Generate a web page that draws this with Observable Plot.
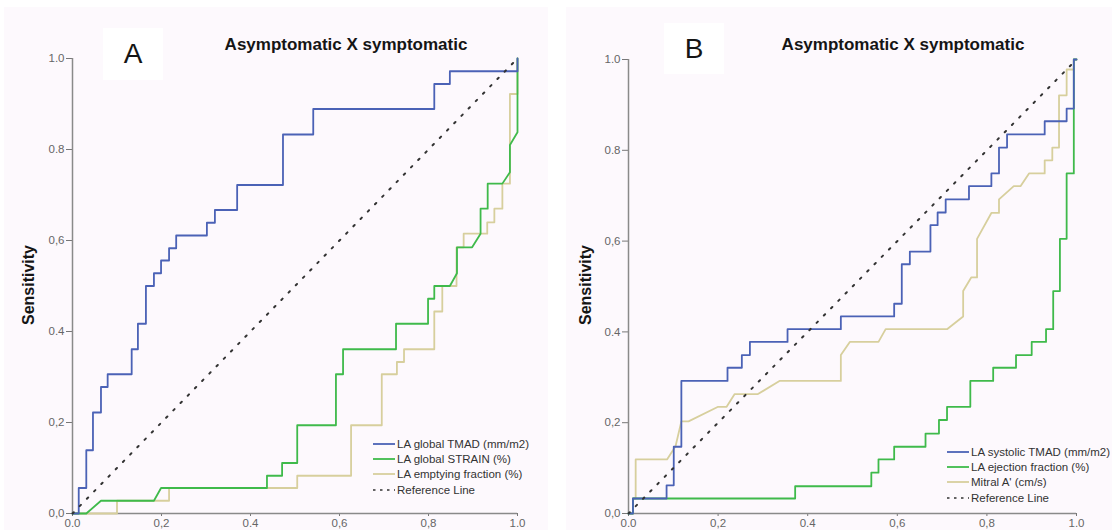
<!DOCTYPE html>
<html><head><meta charset="utf-8">
<script src="https://cdn.jsdelivr.net/npm/d3@7"></script>
<script src="https://cdn.jsdelivr.net/npm/@observablehq/plot@0.6"></script>
<style>
body{margin:0;background:#fff;font-family:"Liberation Sans",Arial,sans-serif;}
#wrap{position:relative;width:1116px;height:530px;overflow:hidden;background:#fff;}
.panel{position:absolute;background:#fdf9fd;}
.plot{position:absolute;top:0;}
.title{position:absolute;font-weight:bold;font-size:17px;color:#151515;white-space:nowrap;transform:translate(-50%,-50%);}
.letter{position:absolute;background:#fff;font-size:28px;color:#151515;display:flex;align-items:center;justify-content:center;}
.ylab{position:absolute;font-weight:bold;font-size:16px;color:#151515;transform:translate(-50%,-50%) rotate(-90deg);white-space:nowrap;}
.legend{position:absolute;font-size:11.5px;color:#333;}
.row{display:flex;align-items:center;height:15.4px;white-space:nowrap;}
.row svg{margin-right:2px;}
</style></head>
<body><div id="wrap"></div>
<script>
// Axis ticks and labels (as printed in the figure)
const ticks = [0, 0.2, 0.4, 0.6, 0.8, 1];
const xTickLabels = ["0.0", "0,2", "0.4", "0,6", "0,8", "1.0"];
const yTickLabels = ["0,0", "0,2", "0.4", "0,6", "0.8", "1.0"];

const titleText = "Asymptomatic X symptomatic";
const yLabel = "Sensitivity";

// Panel A – series (1 - specificity, sensitivity)
const aTmadX = [0,0.014,0.014,0.031,0.031,0.046,0.046,0.064,0.064,0.079,0.079,0.133,0.133,0.147,0.147,0.165,0.165,0.183,0.183,0.199,0.199,0.217,0.217,0.233,0.233,0.302,0.302,0.320,0.320,0.370,0.370,0.473,0.473,0.541,0.541,0.813,0.813,0.848,0.848,1,1];
const aTmadY = [0,0,0.056,0.056,0.139,0.139,0.222,0.222,0.278,0.278,0.306,0.306,0.361,0.361,0.417,0.417,0.5,0.5,0.528,0.528,0.556,0.556,0.583,0.583,0.611,0.611,0.639,0.639,0.667,0.667,0.722,0.722,0.833,0.833,0.889,0.889,0.944,0.944,0.972,0.972,1];
const aStrainX = [0,0.031,0.064,0.183,0.199,0.437,0.437,0.471,0.471,0.505,0.505,0.592,0.592,0.608,0.608,0.727,0.727,0.799,0.799,0.813,0.813,0.848,0.864,0.864,0.898,0.917,0.917,0.933,0.933,0.966,0.983,0.983,1,1];
const aStrainY = [0,0,0.028,0.028,0.056,0.056,0.083,0.083,0.111,0.111,0.194,0.194,0.306,0.306,0.361,0.361,0.417,0.417,0.472,0.472,0.5,0.5,0.528,0.585,0.585,0.615,0.67,0.67,0.725,0.725,0.75,0.81,0.838,1];
const aEmptyX = [0,0.1,0.1,0.217,0.217,0.505,0.505,0.626,0.626,0.695,0.695,0.729,0.729,0.745,0.745,0.813,0.813,0.831,0.831,0.863,0.863,0.879,0.879,0.932,0.932,0.948,0.948,0.966,0.966,0.983,0.983,1,1];
const aEmptyY = [0,0,0.028,0.028,0.056,0.056,0.083,0.083,0.194,0.194,0.306,0.306,0.333,0.333,0.361,0.361,0.444,0.444,0.5,0.5,0.585,0.585,0.615,0.615,0.64,0.64,0.67,0.67,0.725,0.725,0.922,0.922,1];

// Panel B – series
const bTmadX = [0,0.01,0.01,0.085,0.085,0.101,0.101,0.118,0.118,0.221,0.221,0.253,0.253,0.271,0.271,0.355,0.355,0.474,0.474,0.593,0.593,0.61,0.61,0.628,0.628,0.674,0.674,0.69,0.69,0.708,0.708,0.76,0.76,0.81,0.81,0.827,0.827,0.845,0.845,0.929,0.929,0.978,0.978,0.994,0.994,1];
const bTmadY = [0,0,0.033,0.033,0.062,0.062,0.147,0.147,0.292,0.292,0.321,0.321,0.349,0.349,0.378,0.378,0.406,0.406,0.434,0.434,0.462,0.462,0.549,0.549,0.577,0.577,0.635,0.635,0.663,0.663,0.692,0.692,0.721,0.721,0.749,0.749,0.806,0.806,0.835,0.835,0.864,0.864,0.892,0.892,1,1];
const bEjectX = [0,0.01,0.01,0.372,0.372,0.542,0.542,0.558,0.558,0.593,0.593,0.663,0.663,0.693,0.693,0.711,0.711,0.763,0.763,0.814,0.814,0.865,0.865,0.9,0.9,0.932,0.932,0.948,0.948,0.963,0.963,0.978,0.978,0.994,0.994,1];
const bEjectY = [0,0,0.033,0.033,0.06,0.06,0.09,0.09,0.119,0.119,0.147,0.147,0.176,0.176,0.206,0.206,0.235,0.235,0.292,0.292,0.321,0.321,0.349,0.349,0.378,0.378,0.406,0.406,0.49,0.49,0.605,0.605,0.749,0.749,1,1];
const bMitralX = [0,0.01,0.01,0.016,0.016,0.086,0.105,0.118,0.134,0.2,0.219,0.237,0.289,0.337,0.474,0.474,0.494,0.558,0.574,0.711,0.747,0.747,0.765,0.778,0.778,0.81,0.827,0.827,0.86,0.875,0.894,0.929,0.929,0.946,0.946,0.961,0.961,0.978,0.978,0.994,0.994,1];
const bMitralY = [0,0,0.033,0.033,0.119,0.119,0.148,0.203,0.203,0.235,0.235,0.263,0.263,0.292,0.292,0.349,0.378,0.378,0.406,0.406,0.434,0.49,0.52,0.52,0.605,0.662,0.662,0.692,0.721,0.721,0.749,0.749,0.778,0.778,0.806,0.806,0.921,0.921,0.978,0.978,1,1];

const refX = [0, 1];
const refY = [0, 1];

const aLegend = ["LA global TMAD (mm/m2)", "LA global STRAIN (%)", "LA emptying fraction (%)", "Reference Line"];
const bLegend = ["LA systolic TMAD (mm/m2)", "LA ejection fraction (%)", "Mitral A' (cm/s)", "Reference Line"];

const BLUE = "#4b62b6", GREEN = "#3fba4b", TAN = "#d7cf9d", REF = "#333";

const wrap = document.getElementById("wrap");
function add(cls, css, html) {
  const d = document.createElement("div");
  d.className = cls;
  Object.assign(d.style, css);
  if (html !== undefined) d.innerHTML = html;
  wrap.appendChild(d);
  return d;
}

// panel backgrounds
add("panel", {left: "4px", top: "7px", width: "544px", height: "523px"});
add("panel", {left: "566px", top: "7px", width: "546px", height: "523px"});

function pts(xs, ys) { return xs.map((x, i) => ({x, y: ys[i]})); }

function makePlot(series, w, mr, mt) {
  const lines = [
    Plot.line(pts(series[2][0], series[2][1]), {x: "x", y: "y", stroke: TAN, strokeWidth: 1.8}),
    Plot.line(pts(series[1][0], series[1][1]), {x: "x", y: "y", stroke: GREEN, strokeWidth: 1.8}),
    Plot.line(pts(series[0][0], series[0][1]), {x: "x", y: "y", stroke: BLUE, strokeWidth: 1.8}),
    Plot.line(pts(refX, refY), {x: "x", y: "y", stroke: REF, strokeWidth: 2, strokeDasharray: "1.8,8.5"})
  ];
  return Plot.plot({
    width: w, height: 530,
    marginLeft: 72, marginRight: mr, marginTop: mt, marginBottom: 17,
    x: {domain: [0, 1]},
    y: {domain: [0, 1]},
    style: {background: "transparent", fontFamily: "'Liberation Sans', Arial, sans-serif", fontSize: "11.5px", color: "#666", overflow: "visible"},
    marks: [
      Plot.axisX({ticks, tickFormat: d => xTickLabels[ticks.indexOf(d)], tickSize: 3, tickPadding: 2, label: null, stroke: "#777"}),
      Plot.axisY({ticks, tickFormat: d => yTickLabels[ticks.indexOf(d)], tickSize: 6, tickPadding: 2, label: null, stroke: "#777"}),
      Plot.ruleX([0], {stroke: "#8a8a8a", strokeWidth: 1.5}),
      Plot.ruleY([0], {stroke: "#8a8a8a", strokeWidth: 1.5}),
      ...lines
    ]
  });
}

const pa = add("plot", {left: "0px"});
pa.appendChild(makePlot([[aTmadX, aTmadY], [aStrainX, aStrainY], [aEmptyX, aEmptyY]], 556, 39, 58));
const pb = add("plot", {left: "556px"});
pb.appendChild(makePlot([[bTmadX, bTmadY], [bEjectX, bEjectY], [bMitralX, bMitralY]], 560, 40, 59));

// titles, letters, y labels
add("title", {left: "346px", top: "45px"}, titleText);
add("title", {left: "903px", top: "45px"}, titleText);
add("letter", {left: "103px", top: "28px", width: "60px", height: "52px"}, "A");
add("letter", {left: "664px", top: "23px", width: "60px", height: "51px"}, "B");
add("ylab", {left: "29px", top: "285px"}, yLabel);
add("ylab", {left: "586px", top: "285px"}, yLabel);

// legends
function legend(labels, left, top) {
  const colors = [BLUE, GREEN, TAN, REF];
  const lg = add("legend", {left: left + "px", top: top + "px"});
  labels.forEach((t, i) => {
    const r = document.createElement("div");
    r.className = "row";
    const dash = i === 3 ? ' stroke-dasharray="2.5,4.5"' : "";
    r.innerHTML = `<svg width="22" height="4"><line x1="0" y1="2" x2="22" y2="2" stroke="${colors[i]}" stroke-width="${i === 3 ? 1.6 : 1.8}"${dash}/></svg><span>${t.replace(/'/g, "&#39;")}</span>`;
    lg.appendChild(r);
  });
}
legend(aLegend, 373, 436);
legend(bLegend, 947, 444);
</script></body></html>
